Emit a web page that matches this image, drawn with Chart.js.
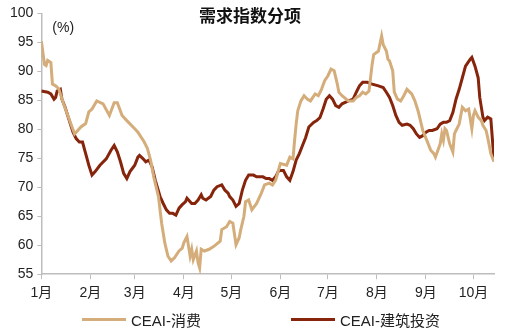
<!DOCTYPE html>
<html>
<head>
<meta charset="utf-8">
<script src="https://cdn.jsdelivr.net/npm/chart.js@4/dist/chart.umd.min.js"></script>
<style>
  html, body { margin: 0; padding: 0; background: #fff; }
  #wrap { position: relative; width: 522px; height: 328px; }
  #legend {
    position: absolute; left: 0; top: 310px; width: 522px; height: 18px;
    display: flex; justify-content: center; align-items: center;
    font: 15px "Liberation Sans", "Noto Sans CJK SC", sans-serif; color: #222;
  }
  .item { display: flex; align-items: center; }
  .item + .item { margin-left: 90px; }
  .swatch { display: inline-block; width: 44px; height: 3px; margin-right: 5px; }
</style>
</head>
<body>
<div id="wrap">
  <canvas id="chart-demand" width="522" height="328"></canvas>
  <div id="legend"></div>
</div>
<script>
// 需求指数分项 — 横轴为自1月1日起的天数
const monthStarts = [0, 31, 59, 90, 120, 151, 181, 212, 243, 273];
const monthLabels = ['1月', '2月', '3月', '4月', '5月', '6月', '7月', '8月', '9月', '10月'];
const seriesNames = ['CEAI-消费', 'CEAI-建筑投资'];
const seriesColors = ['#d4ad7b', '#86250b'];

const consDays = [0, 2, 3, 4, 6, 7, 9, 11, 14, 21, 25, 28, 30, 32, 35, 39, 43, 46, 48, 51,
  54, 59, 61, 65, 67, 69, 71, 74, 76, 78, 80, 82, 84, 87, 89, 90, 92, 94, 95, 96,
  98, 99, 100, 101, 103, 106, 109, 113, 114, 117, 119, 121, 123, 125, 126, 128, 129, 131, 133, 136,
  139, 141, 144, 146, 148, 151, 155, 157, 159, 160, 161, 162, 164, 166, 168, 170, 173, 175, 177, 179,
  181, 183, 185, 187, 188, 190, 194, 197, 199, 201, 203, 205, 207, 209, 210, 213, 215, 216, 218, 219,
  220, 222, 223, 225, 227, 229, 231, 234, 236, 238, 239, 241, 244, 246, 248, 249, 252, 253, 254, 255,
  256, 258, 260, 261, 262, 264, 266, 268, 270, 272, 273, 274, 276, 278, 279, 281, 282, 284, 286];
const consVals = [95.2, 91.2, 91.0, 91.9, 91.5, 87.8, 87.5, 87.0, 84.4, 79.2, 80.4, 81.0, 83.0, 83.5, 84.9, 84.4, 82.4, 84.6, 84.6, 82.4,
  81.5, 80.1, 79.5, 77.8, 76.7, 74.7, 71.8, 68.4, 63.8, 60.4, 58.1, 57.3, 57.8, 59.0, 59.5, 60.4, 61.5, 58.1, 59.3, 57.5,
  59.0, 57.0, 56.1, 59.3, 59.0, 59.3, 59.8, 60.7, 62.7, 63.2, 64.1, 63.8, 60.1, 61.3, 62.7, 65.0, 67.5, 67.8, 66.1, 67.2,
  69.0, 70.4, 70.7, 70.4, 71.2, 74.1, 73.8, 75.2, 74.9, 78.1, 80.9, 83.2, 84.9, 85.8, 85.2, 84.9, 86.1, 85.8, 86.9, 88.4,
  89.2, 90.4, 90.1, 87.8, 86.4, 85.8, 84.9, 84.9, 85.5, 85.8, 86.4, 86.1, 86.6, 91.2, 92.9, 93.5, 96.1, 94.6, 93.5, 92.1,
  91.8, 90.1, 86.4, 85.2, 84.9, 85.8, 86.9, 86.1, 84.9, 83.2, 82.1, 79.8, 77.8, 76.4, 75.8, 75.2, 77.5, 79.2, 78.1, 80.1,
  79.8, 77.5, 76.1, 79.2, 79.8, 80.9, 83.8, 83.2, 83.5, 80.1, 82.4, 83.2, 82.1, 81.5, 80.7, 79.8, 78.6, 75.8, 74.4];

const buildDays = [0, 4, 6, 8, 9, 10, 12, 13, 15, 18, 20, 22, 24, 26, 28, 30, 32, 34, 37, 41,
  44, 46, 48, 50, 52, 54, 56, 59, 61, 62, 64, 66, 68, 70, 72, 75, 77, 79, 81, 83,
  85, 87, 89, 91, 92, 95, 97, 99, 101, 102, 104, 107, 109, 111, 114, 116, 118, 119, 121, 123,
  125, 127, 129, 131, 134, 136, 138, 140, 142, 144, 146, 148, 150, 153, 155, 157, 159, 161, 163, 165,
  167, 169, 172, 174, 176, 178, 180, 182, 184, 186, 188, 190, 194, 197, 199, 201, 203, 206, 209, 213,
  216, 218, 220, 222, 224, 226, 228, 231, 233, 235, 237, 239, 241, 243, 245, 247, 250, 252, 254, 256,
  258, 260, 262, 264, 266, 268, 271, 272, 274, 276, 277, 279, 280, 282, 284, 286];
const buildVals = [86.6, 86.4, 86.1, 85.2, 85.5, 86.6, 86.9, 85.2, 83.8, 81.2, 79.5, 78.4, 77.8, 77.8, 75.8, 73.8, 72.1, 72.7, 73.8, 74.9,
  76.4, 77.2, 76.1, 74.4, 72.4, 71.5, 72.7, 73.8, 75.2, 75.5, 75.0, 74.4, 74.7, 73.5, 71.2, 68.4, 67.2, 66.1, 65.5, 65.5,
  65.2, 66.4, 67.0, 67.5, 68.1, 67.2, 67.2, 67.8, 68.7, 68.1, 67.8, 68.4, 69.5, 70.1, 70.4, 69.5, 69.0, 68.4, 67.8, 66.7,
  67.2, 69.5, 71.2, 72.1, 72.1, 71.8, 71.8, 71.8, 71.5, 71.5, 71.2, 71.8, 72.9, 72.9, 71.8, 71.2, 72.7, 74.7, 75.8, 77.2,
  78.6, 80.4, 81.2, 81.5, 82.0, 83.5, 85.2, 85.8, 85.2, 84.1, 83.8, 84.4, 84.9, 85.2, 86.4, 87.5, 88.1, 88.1, 87.8, 87.5,
  87.2, 86.4, 85.5, 84.1, 82.4, 81.2, 80.7, 80.9, 80.7, 80.1, 79.2, 78.6, 78.9, 79.5, 79.8, 79.8, 80.1, 80.9, 81.2, 81.2,
  81.5, 82.9, 85.2, 86.9, 88.9, 90.9, 92.1, 92.4, 90.9, 88.9, 85.5, 82.1, 81.5, 82.1, 81.8, 74.7];

const yTicks = [55, 60, 65, 70, 75, 80, 85, 90, 95, 100];

const toPoints = (days, vals) => days.map((d, i) => ({ x: d, y: vals[i] }));

const axisGray = '#bdbdbd';
const tickFont = { family: '"Liberation Sans", "Noto Sans CJK SC", sans-serif', size: 14 };

// 图例用HTML画
const legendEl = document.getElementById('legend');
seriesNames.forEach((name, i) => {
  const item = document.createElement('span');
  item.className = 'item';
  item.innerHTML = '<span class="swatch" style="background:' + seriesColors[i] + '"></span>' + name;
  legendEl.appendChild(item);
});

// "(%)" 单位标注
const unitLabel = {
  id: 'unitLabel',
  afterDraw(chart) {
    const { ctx, chartArea } = chart;
    ctx.save();
    ctx.font = '14px "Liberation Sans", sans-serif';
    ctx.fillStyle = '#222';
    ctx.textBaseline = 'middle';
    ctx.fillText('(%)', chartArea.left + 11, chartArea.top + 15);
    ctx.restore();
  }
};

new Chart(document.getElementById('chart-demand'), {
  type: 'line',
  data: {
    datasets: [
      {
        label: seriesNames[0],
        data: toPoints(consDays, consVals),
        borderColor: seriesColors[0],
        borderWidth: 3,
        pointRadius: 0,
        tension: 0
      },
      {
        label: seriesNames[1],
        data: toPoints(buildDays, buildVals),
        borderColor: seriesColors[1],
        borderWidth: 3,
        pointRadius: 0,
        tension: 0
      }
    ]
  },
  options: {
    responsive: false,
    animation: false,
    layout: { padding: { top: 5, right: 28, bottom: 20, left: 6 } },
    plugins: {
      legend: { display: false },
      tooltip: { enabled: false },
      title: {
        display: true,
        text: '需求指数分项',
        color: '#111',
        font: { family: '"Noto Sans CJK SC", sans-serif', size: 17, weight: 'bold' },
        padding: { top: 0, bottom: -12 }
      }
    },
    scales: {
      x: {
        type: 'linear',
        min: 0,
        max: 286,
        afterBuildTicks: axis => { axis.ticks = monthStarts.map(v => ({ value: v })); },
        ticks: {
          color: '#222',
          font: tickFont,
          padding: 6,
          maxRotation: 0,
          autoSkip: false,
          callback: v => monthLabels[monthStarts.indexOf(v)]
        },
        grid: { drawOnChartArea: false, drawTicks: true, tickLength: 5, color: axisGray },
        border: { color: axisGray, width: 1.5 }
      },
      y: {
        min: 55,
        max: 100,
        afterBuildTicks: axis => { axis.ticks = yTicks.map(v => ({ value: v })); },
        ticks: { color: '#222', font: tickFont, padding: 4 },
        grid: { drawOnChartArea: false, drawTicks: true, tickLength: 4, color: axisGray },
        border: { color: axisGray, width: 1.5 }
      }
    }
  },
  plugins: [unitLabel]
});
</script>
</body>
</html>
